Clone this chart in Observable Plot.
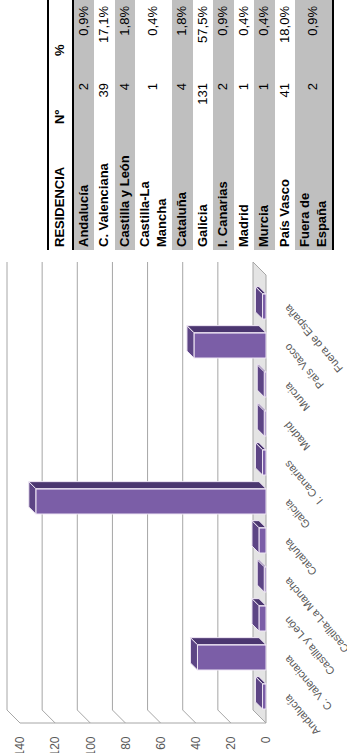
<!DOCTYPE html>
<html>
<head>
<meta charset="utf-8">
<script src="https://cdn.jsdelivr.net/npm/d3@7"></script>
<script src="https://cdn.jsdelivr.net/npm/@observablehq/plot@0.6"></script>
<style>
  html, body { margin: 0; padding: 0; background: #fff; overflow: hidden; width: 347px; height: 753px; }
  #rot { position: absolute; left: 0; top: 0; width: 753px; height: 347px; transform-origin: 0 0; transform: translate(0, 753px) rotate(-90deg); }
  #chart { position: absolute; left: 0; top: 0; }
  #chart [aria-label^="y-axis"] text { font-size: 12px; }
  #tbl { position: absolute; left: 503px; top: 47px; width: 250px; border-collapse: collapse; font-family: "Liberation Sans", Arial, sans-serif; font-size: 13px; color: #000; }
  #tbl td, #tbl th { padding: 2px 3px; line-height: 16.5px; white-space: nowrap; vertical-align: middle; }
  #tbl thead tr { border-top: 2px solid #000; border-bottom: 2px solid #000; }
  #tbl thead th { text-align: left; font-weight: bold; padding-top: 3px; padding-bottom: 3px; }
  #tbl thead th.h1 { padding-left: 16px; }
  #tbl thead th.h2 { padding-left: 24px; }
  #tbl tbody tr:last-child { border-bottom: 2px solid #000; }
  #tbl tbody tr.g { background: #bfbfbf; }
  #tbl td.name { font-weight: bold; width: 104px; }
  #tbl td.num { text-align: right; width: 54px; }
  #tbl td.pct { text-align: right; padding-right: 6px; }
</style>
</head>
<body>
<div id="rot">
  <div id="chart"></div>
  <table id="tbl"></table>
</div>
<script>
// ---- data ----
const regions = ["Andalucía","C. Valenciana","Castilla y León","Castilla-La Mancha","Cataluña","Galicia","I. Canarias","Madrid","Murcia","País Vasco","Fuera de España"];
const tableNames = ["Andalucía","C. Valenciana","Castilla y León","Castilla-La<br>Mancha","Cataluña","Galicia","I. Canarias","Madrid","Murcia","País Vasco","Fuera de<br>España"];
const counts = [2, 39, 4, 1, 4, 131, 2, 1, 1, 41, 2];
const percents = ["0,9%","17,1%","1,8%","0,4%","1,8%","57,5%","0,9%","0,4%","0,4%","18,0%","0,9%"];
const yTicks = [0, 20, 40, 60, 80, 100, 120, 140];
const headers = ["RESIDENCIA", "Nº", "%"];

const data = regions.map((r, i) => ({name: r, n: counts[i]}));

// ---- style constants ----
const PAD = 0.35;
const WALL = 13;     // wall depth (px)
const DEPTH = 7;     // bar depth (px)
const FRONT = "#7b5ea7", TOP = "#5d4585", SIDE = "#4b3670", EDGE = "#efe6f5";
const GRID = "#a6a6a6";

function walls(index, scales, values, dims) {
  const y = scales.y;
  const g = d3.create("svg:g");
  const xl = dims.marginLeft - 3;
  const xr = dims.width - dims.marginRight + 7;
  const y0 = y(0), yTop = y(yTicks[yTicks.length - 1]);
  g.append("path")
    .attr("d", `M${xl},${y0}L${xl + WALL},${y0 - WALL}L${xr + WALL},${y0 - WALL}L${xr},${y0}Z`)
    .attr("fill", "#e4e4e4").attr("stroke", GRID).attr("stroke-width", 1);
  g.append("line").attr("x1", xl).attr("x2", xl).attr("y1", yTop).attr("y2", y0)
    .attr("stroke", GRID);
  for (const t of yTicks) {
    const yy = y(t);
    g.append("line").attr("x1", xl).attr("y1", yy).attr("x2", xl + WALL).attr("y2", yy - WALL).attr("stroke", GRID);
    if (t > 0) g.append("line").attr("x1", xl + WALL).attr("y1", yy - WALL).attr("x2", xr + WALL).attr("y2", yy - WALL).attr("stroke", GRID);
  }
  return g.node();
}

function faces(index, scales, values, dims) {
  const x = scales.x, y = scales.y;
  const step = x(regions[1]) - x(regions[0]);
  const bw = step * (1 - PAD);
  const g = d3.create("svg:g");
  const yb = y(0);
  data.forEach(d => {
    const x0 = x(d.name), x1 = x0 + bw, yt = y(d.n);
    g.append("path").attr("d", `M${x0},${yt}L${x0 + DEPTH},${yt - DEPTH}L${x1 + DEPTH},${yt - DEPTH}L${x1},${yt}Z`)
      .attr("fill", TOP).attr("stroke", EDGE).attr("stroke-width", 1);
    g.append("path").attr("d", `M${x1},${yt}L${x1 + DEPTH},${yt - DEPTH}L${x1 + DEPTH},${yb - DEPTH}L${x1},${yb}Z`)
      .attr("fill", SIDE).attr("stroke", EDGE).attr("stroke-width", 1);
  });
  return g.node();
}

const chart = Plot.plot({
  width: 500,
  height: 347,
  marginTop: 20,
  marginBottom: 81,
  marginLeft: 33,
  marginRight: 29,
  style: {fontFamily: "'Liberation Sans', Arial, sans-serif", fontSize: "11px", color: "#595959", background: "transparent", overflow: "visible"},
  x: {domain: regions, paddingInner: PAD, paddingOuter: 0.18, tickRotate: -40, tickSize: 0, tickPadding: 20, label: null},
  y: {domain: [0, 140], ticks: yTicks, tickSize: 0, tickPadding: 17, label: null},
  marks: [
    walls,
    Plot.barY(data, {x: "name", y: "n", fill: FRONT, stroke: EDGE, strokeWidth: 1}),
    faces
  ]
});
document.getElementById("chart").appendChild(chart);

// ---- table ----
const tbl = d3.select("#tbl");
const thr = tbl.append("thead").append("tr");
thr.selectAll("th").data(headers).join("th").attr("class", (d, i) => "h" + i).text(d => d);
const tb = tbl.append("tbody");
regions.forEach((r, i) => {
  const tr = tb.append("tr").attr("class", i % 2 === 0 ? "g" : "");
  tr.append("td").attr("class", "name").html(tableNames[i]);
  tr.append("td").attr("class", "num").text(counts[i]);
  tr.append("td").attr("class", "pct").text(percents[i]);
});
</script>
</body>
</html>
